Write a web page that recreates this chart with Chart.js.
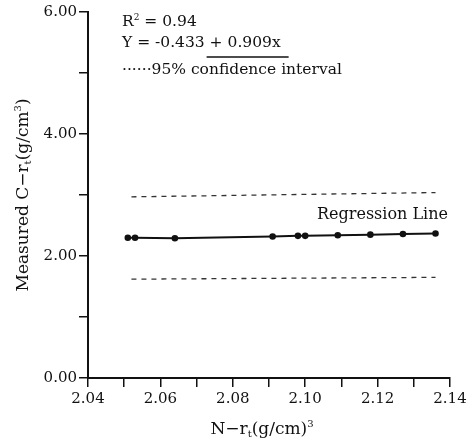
<!DOCTYPE html>
<html>
<head>
<meta charset="utf-8">
<script src="https://cdn.jsdelivr.net/npm/chart.js@4"></script>
<style>
    html, body { margin: 0; padding: 0; background: #fff; }
    #wrap { width: 474px; height: 442px; }
</style>
</head>
<body>
<div id="wrap"><canvas id="regChart" width="474" height="442"></canvas></div>
<script>
// --- DATA ---
const nDensity = [2.051, 2.053, 2.064, 2.091, 2.098, 2.100, 2.109, 2.118, 2.127, 2.136];
const measuredDensity = [2.30, 2.30, 2.29, 2.32, 2.33, 2.33, 2.34, 2.35, 2.36, 2.37];

const bandX = [2.052, 2.136];
const upperBand = [2.97, 3.04];
const lowerBand = [1.62, 1.65];

const xTicks = [2.04, 2.05, 2.06, 2.07, 2.08, 2.09, 2.10, 2.11, 2.12, 2.13, 2.14];
const xLabelTicks = [2.04, 2.06, 2.08, 2.10, 2.12, 2.14];
const yTicks = [0, 1, 2, 3, 4, 5, 6];
const yLabelTicks = [0, 2, 4, 6];

const ink = '#111';
const serif = "'DejaVu Serif', 'Liberation Serif', serif";

const toPoints = (xs, ys) => xs.map((x, i) => ({ x: x, y: ys[i] }));
const isLabelTick = (list, v) => list.some(t => Math.abs(t - v) < 1e-6);

// draws text made of pieces, some of them sub/superscript
function richWidth(ctx, parts, size) {
    let w = 0;
    parts.forEach(p => {
        ctx.font = ((p.sub || p.sup) ? Math.round(size * 0.6) : size) + 'px ' + serif;
        w += ctx.measureText(p.t).width;
    });
    return w;
}
function drawRich(ctx, parts, x, y, size) {
    let cx = x;
    parts.forEach(p => {
        const small = p.sub || p.sup;
        ctx.font = (small ? Math.round(size * 0.6) : size) + 'px ' + serif;
        let dy = 0;
        if (p.sub) dy = size * 0.2;
        if (p.sup) dy = -size * 0.4;
        ctx.fillText(p.t, cx, y + dy);
        cx += ctx.measureText(p.t).width;
    });
    return cx;
}

const labelsPlugin = {
    id: 'labelsPlugin',
    afterDraw(chart) {
        const ctx = chart.ctx;
        ctx.save();
        ctx.fillStyle = ink;
        ctx.strokeStyle = ink;
        ctx.textBaseline = 'alphabetic';
        ctx.textAlign = 'left';

        // y axis title
        const yTitle = [{ t: 'Measured C\u2212r' }, { t: 't', sub: true }, { t: '(g/cm' }, { t: '3', sup: true }, { t: ')' }];
        ctx.save();
        ctx.translate(28, 195);
        ctx.rotate(-Math.PI / 2);
        const yw = richWidth(ctx, yTitle, 17);
        drawRich(ctx, yTitle, -yw / 2, 0, 17);
        ctx.restore();

        // x axis title
        const xTitle = [{ t: 'N\u2212r' }, { t: 't', sub: true }, { t: '(g/cm)' }, { t: '3', sup: true }];
        const xw = richWidth(ctx, xTitle, 17);
        drawRich(ctx, xTitle, 262 - xw / 2, 434, 17);

        // equation block
        drawRich(ctx, [{ t: 'R' }, { t: '2', sup: true }, { t: ' = 0.94' }], 122, 26, 15.5);
        ctx.font = '15.5px ' + serif;
        const head = 'Y = -0.433 ';
        ctx.fillText(head + '+ 0.909x', 122, 47);
        const ux = 122 + ctx.measureText(head).width - 3;
        const uEnd = 122 + ctx.measureText(head + '+ 0.909x').width + 8;
        ctx.lineWidth = 1.5;
        ctx.beginPath();
        ctx.moveTo(ux, 57);
        ctx.lineTo(uEnd, 57);
        ctx.stroke();
        ctx.fillText('\u00b7\u00b7\u00b7\u00b7\u00b7\u00b795% confidence interval', 122, 74);

        // line label
        ctx.font = '16px ' + serif;
        ctx.fillText('Regression Line', 317, 219);
        ctx.restore();
    }
};

const ctx = document.getElementById('regChart').getContext('2d');

const regChart = new Chart(ctx, {
    type: 'scatter',
    data: {
        datasets: [
            {
                label: 'Regression Line',
                data: toPoints(nDensity, measuredDensity),
                showLine: true,
                borderColor: ink,
                borderWidth: 2,
                pointRadius: 2.3,
                pointBackgroundColor: ink,
                pointBorderColor: ink
            },
            {
                label: 'Upper 95%',
                data: toPoints(bandX, upperBand),
                showLine: true,
                borderColor: '#333',
                borderWidth: 1.3,
                borderDash: [5, 5],
                pointRadius: 0
            },
            {
                label: 'Lower 95%',
                data: toPoints(bandX, lowerBand),
                showLine: true,
                borderColor: '#333',
                borderWidth: 1.3,
                borderDash: [5, 5],
                pointRadius: 0
            }
        ]
    },
    options: {
        responsive: false,
        animation: false,
        layout: { padding: { top: 12, right: 24, left: 0, bottom: 0 } },
        plugins: {
            legend: { display: false },
            tooltip: { enabled: false }
        },
        scales: {
            x: {
                type: 'linear',
                min: 2.04,
                max: 2.14,
                afterBuildTicks: (scale) => { scale.ticks = xTicks.map(v => ({ value: v })); },
                afterFit: (scale) => { scale.height = 64; },
                ticks: {
                    color: ink,
                    font: { family: serif, size: 15 },
                    padding: 3,
                    maxRotation: 0,
                    autoSkip: false,
                    callback: (v) => isLabelTick(xLabelTicks, v) ? v.toFixed(2) : ''
                },
                grid: {
                    drawOnChartArea: false,
                    drawTicks: true,
                    tickLength: 9,
                    color: ink,
                    lineWidth: 1.5
                },
                border: { display: true, color: ink, width: 2 }
            },
            y: {
                type: 'linear',
                min: 0,
                max: 6,
                afterBuildTicks: (scale) => { scale.ticks = yTicks.map(v => ({ value: v })); },
                afterFit: (scale) => { scale.width = 88; },
                ticks: {
                    color: ink,
                    font: { family: serif, size: 15 },
                    padding: 2,
                    autoSkip: false,
                    callback: (v) => isLabelTick(yLabelTicks, v) ? v.toFixed(2) : ''
                },
                grid: {
                    drawOnChartArea: false,
                    drawTicks: true,
                    tickLength: 9,
                    color: ink,
                    lineWidth: 1.5
                },
                border: { display: true, color: ink, width: 2 }
            }
        }
    },
    plugins: [labelsPlugin]
});
</script>
</body>
</html>
